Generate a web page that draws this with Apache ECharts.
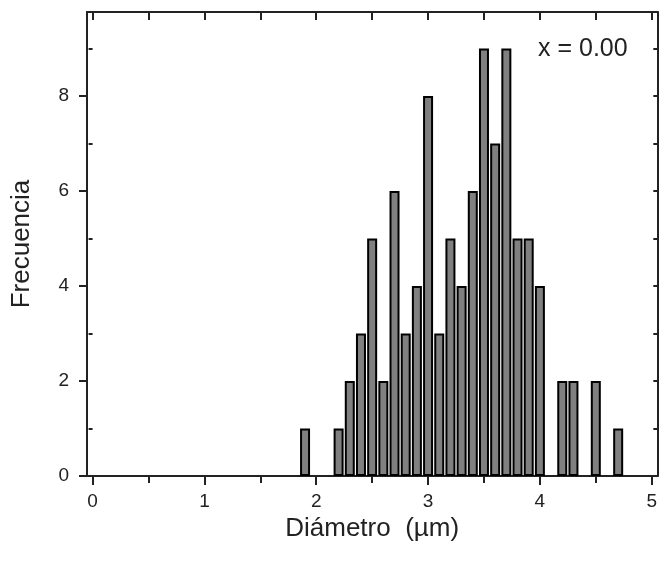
<!DOCTYPE html>
<html>
<head>
<meta charset="utf-8">
<script src="https://cdn.jsdelivr.net/npm/echarts@6/dist/echarts.min.js"></script>
<style>
  html, body { margin: 0; padding: 0; background: #fff; }
  #chart { width: 660px; height: 565px; }
</style>
</head>
<body>
<div id="chart"></div>
<script>
// histogram bins (centre, µm) and counts
const binCentres = [1.9, 2.0, 2.1, 2.2, 2.3, 2.4, 2.5, 2.6, 2.7, 2.8, 2.9, 3.0, 3.1, 3.2, 3.3,
                    3.4, 3.5, 3.6, 3.7, 3.8, 3.9, 4.0, 4.1, 4.2, 4.3, 4.4, 4.5, 4.6, 4.7]
const counts = [1, 0, 0, 1, 2, 3, 5, 2, 6, 3, 4, 8, 3, 5, 4,
                6, 9, 7, 9, 5, 5, 4, 0, 2, 2, 0, 2, 0, 1]

const xLabels = [0, 1, 2, 3, 4, 5]
const xMinorTicks = [0.5, 1.5, 2.5, 3.5, 4.5]
const xTopTicks = [0, 0.5, 1, 1.5, 2, 2.5, 3, 3.5, 4, 4.5, 5]
const yLabels = [0, 2, 4, 6, 8]
const yMinorTicks = [1, 3, 5, 7, 9]
const yRightTicks = [1, 2, 3, 4, 5, 6, 7, 8, 9]

const annotation = 'x = 0.00'

const FONT = '"Liberation Sans", Arial, sans-serif'
const INK = '#222'
const lineStyle = { color: INK, width: 2 }

const chart = echarts.init(document.getElementById('chart'))

const barData = binCentres
  .map((x, i) => [x, counts[i]])
  .filter(d => d[1] > 0)

const xBase = { type: 'value', min: -0.05, max: 5.05, splitLine: { show: false } }
const yBase = { type: 'value', min: 0, max: 9.77, splitLine: { show: false } }

const option = {
  backgroundColor: '#fff',
  animation: false,
  grid: { left: 87, right: 2, top: 12, bottom: 89 },
  xAxis: [
    {
      ...xBase,
      position: 'bottom',
      axisLine: { show: true, onZero: false, lineStyle },
      axisTick: { show: true, customValues: xLabels, length: 9, lineStyle },
      axisLabel: {
        customValues: xLabels, margin: 16,
        fontSize: 19, color: INK, fontFamily: FONT
      },
      name: 'Diámetro  (µm)',
      nameLocation: 'middle',
      nameGap: 28,
      nameTextStyle: { fontSize: 26, color: INK, fontFamily: FONT }
    },
    {
      ...xBase,
      position: 'bottom',
      axisLine: { show: false },
      axisTick: { show: true, customValues: xMinorTicks, length: 7, lineStyle },
      axisLabel: { show: false }
    },
    {
      ...xBase,
      position: 'top',
      axisLine: { show: true, onZero: false, lineStyle },
      axisTick: { show: true, inside: true, customValues: xTopTicks, length: 8, lineStyle },
      axisLabel: { show: false }
    }
  ],
  yAxis: [
    {
      ...yBase,
      position: 'left',
      axisLine: { show: true, onZero: false, lineStyle },
      axisTick: { show: true, customValues: yLabels, length: 8, lineStyle },
      axisLabel: {
        customValues: yLabels, margin: 18,
        fontSize: 19, color: INK, fontFamily: FONT
      },
      name: 'Frecuencia',
      nameLocation: 'middle',
      nameGap: 52,
      nameRotate: 90,
      nameTextStyle: { fontSize: 26, color: INK, fontFamily: FONT }
    },
    {
      ...yBase,
      position: 'left',
      axisLine: { show: false },
      axisTick: { show: true, customValues: yMinorTicks, length: 4, lineStyle },
      axisLabel: { show: false }
    },
    {
      ...yBase,
      position: 'right',
      axisLine: { show: true, onZero: false, lineStyle },
      axisTick: { show: true, inside: true, customValues: yRightTicks, length: 4, lineStyle },
      axisLabel: { show: false }
    }
  ],
  graphic: [
    {
      type: 'text',
      left: 538,
      top: 37,
      style: { text: annotation, fontSize: 25, fill: INK, fontFamily: FONT }
    }
  ],
  series: [
    {
      type: 'bar',
      xAxisIndex: 0,
      yAxisIndex: 0,
      barWidth: 10,
      itemStyle: { color: '#808080', borderColor: '#000', borderWidth: 2 },
      data: barData
    }
  ]
}

chart.setOption(option)
</script>
</body>
</html>
